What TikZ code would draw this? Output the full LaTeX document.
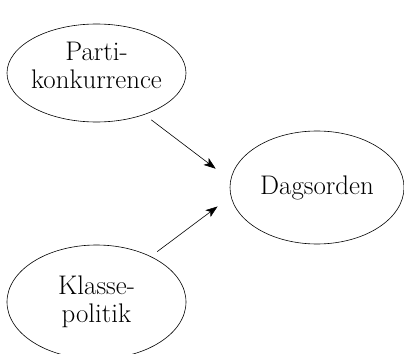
\documentclass[tikz,border=0pt]{standalone}
\usepackage{fontspec}
\usetikzlibrary{shapes.geometric,arrows.meta}
\tikzset{
  topic/.style={ellipse, draw, line width=0.6bp, inner sep=0pt, align=center, font=\fontsize{27}{28}\selectfont},
  effect/.style={-{Stealth[length=12bp,width=8.5bp,inset=3bp]}, line width=0.6bp},
}
\begin{document}
\begin{tikzpicture}[x=1bp,y=1bp]
    \useasboundingbox (0,0) rectangle (404,354);

    % the three factors
    \node[topic, minimum width=179bp, minimum height=98bp, inner xsep=-2.5bp, text depth=16bp] (parti) at (96.5,281) {Parti-\\konkurrence};
    \node[topic, minimum width=174bp, minimum height=113bp] (dags) at (317,166.5) {Dagsorden};
    \node[topic, minimum width=179bp, minimum height=114bp] (klasse) at (96.5,52) {Klasse-\\politik};

    % influence on the agenda
    \draw[effect, shorten <=8.5bp, shorten >=18.5bp] (parti.-41) -- (dags.175);
    \draw[effect, shorten <=8bp, shorten >=16.5bp] (klasse.40) -- (dags.186.5);
\end{tikzpicture}
\end{document}
